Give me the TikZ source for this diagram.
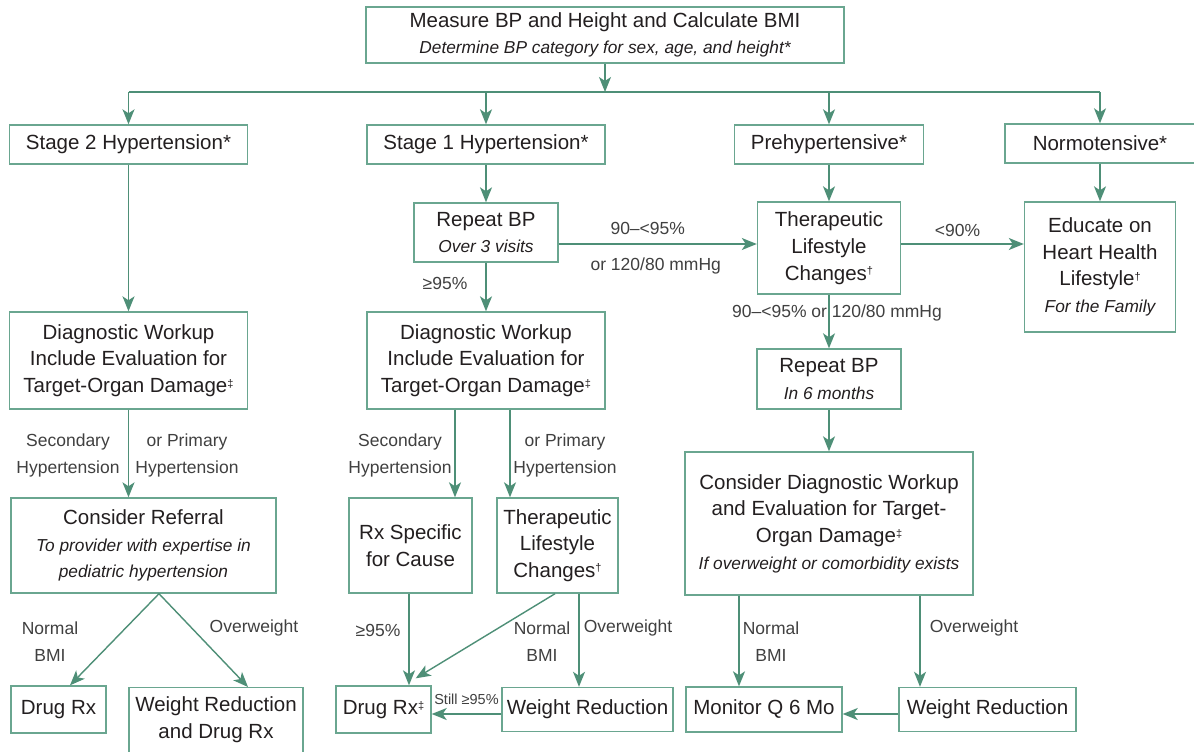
\documentclass[tikz,border=0pt]{standalone}
\usepackage{fontspec}
\setmainfont{Liberation Sans}
\usepackage{tikz}
\usetikzlibrary{arrows.meta}
\usetikzlibrary{positioning}
\definecolor{boxline}{HTML}{6AA690}
\definecolor{arrowline}{HTML}{4E8F77}
\definecolor{textgray}{HTML}{231F20}
\definecolor{labelgray}{HTML}{404040}
\newcommand\mainfs{\fontsize{20.5}{26.7}\selectfont}
\newcommand\itfs{\fontsize{17.3}{26.7}\selectfont\itshape}
\newcommand\lblfs{\fontsize{17.5}{27}\selectfont}
\newcommand\tinyfs{\fontsize{14.5}{16}\selectfont}
\newcommand\dg{\raisebox{0.55ex}{\fontsize{11}{11}\selectfont †}}
\newcommand\ddg{\raisebox{0.45ex}{\fontsize{11}{11}\selectfont ‡}}
\tikzset{
  flowbox/.style={draw=boxline, line width=1.4pt, text=textgray, font=\mainfs, align=center, inner sep=0pt},
  flow/.style={draw=arrowline, line width=1.4pt, -{Stealth[length=15pt, width=12pt, inset=4pt]}},
  plain/.style={draw=arrowline, line width=1.4pt},
  lbl/.style={text=labelgray, font=\lblfs, align=center, inner sep=0pt}
}

\begin{document}
\begin{tikzpicture}[x=1pt, y=-1pt]
    \useasboundingbox[fill=white] (0,0) rectangle (1194,752);

    % top and categories
    \node[flowbox, minimum width=478pt, minimum height=56pt] (measure) at (605,35) {Measure BP and Height and Calculate BMI\\ {\itfs Determine BP category for sex, age, and height*}};
    \node[flowbox, minimum width=238pt, minimum height=39pt] (stgtwo) at (128.5,144.5) {Stage 2 Hypertension*};
    \node[flowbox, minimum width=238pt, minimum height=39pt] (stgone) at (486,144.5) {Stage 1 Hypertension*};
    \node[flowbox, minimum width=189pt, minimum height=39pt] (prehyp) at (829,144.5) {Prehypertensive*};
    \node[flowbox, minimum width=190pt, minimum height=39pt] (normo) at (1100,143.5) {Normotensive*};

    % stage 2
    \node[flowbox, minimum width=238pt, minimum height=97pt] (dxleft) at (128.5,360.5) {Diagnostic Workup\\Include Evaluation for\\Target-Organ Damage\ddg};
    \node[flowbox, minimum width=265pt, minimum height=95pt] (referral) at (143.5,545.5) {Consider Referral\\{\itfs To provider with expertise in}\\{\itfs pediatric hypertension}};
    \node[flowbox, minimum width=95pt, minimum height=47pt] (drugone) at (58.5,709.5) {Drug Rx};
    \node[flowbox, minimum width=174pt, anchor=north, inner ysep=9pt, text depth=40pt] (wtdrug) at (216,687) {Weight Reduction\\and Drug Rx};

    % stage 1
    \node[flowbox, minimum width=144pt, minimum height=59pt] (repone) at (486,232.5) {Repeat BP\\{\itfs Over 3 visits}};
    \node[flowbox, minimum width=238pt, minimum height=97pt] (dxmid) at (486,360.5) {Diagnostic Workup\\Include Evaluation for\\Target-Organ Damage\ddg};
    \node[flowbox, minimum width=123pt, minimum height=95pt] (rxspec) at (410.5,545.5) {Rx Specific\\for Cause};
    \node[flowbox, minimum width=121pt, minimum height=95pt] (tlcmid) at (557.5,545.5) {Therapeutic\\Lifestyle\\Changes\dg};
    \node[flowbox, minimum width=95pt, minimum height=47pt] (drugtwo) at (383.5,709.5) {Drug Rx\ddg};
    \node[flowbox, minimum width=171pt, minimum height=44pt] (wtrtwo) at (587.5,709.5) {Weight Reduction};

    % prehypertensive and normotensive
    \node[flowbox, minimum width=143pt, minimum height=92pt] (tlcpre) at (829,248) {Therapeutic\\Lifestyle\\Changes\dg};
    \node[flowbox, minimum width=151pt, minimum height=130pt] (educ) at (1100,267) {Educate on\\Heart Health\\Lifestyle\dg\\{\itfs For the Family}};
    \node[flowbox, minimum width=144pt, minimum height=60pt] (reppre) at (829,379) {Repeat BP\\{\itfs In 6 months}};
    \node[flowbox, minimum width=288pt, minimum height=143pt] (consdx) at (829,523.5) {Consider Diagnostic Workup\\and Evaluation for Target-\\Organ Damage\ddg\\{\itfs If overweight or comorbidity exists}};
    \node[flowbox, minimum width=156pt, minimum height=45pt] (monitor) at (764,709.5) {Monitor Q 6 Mo};
    \node[flowbox, minimum width=177pt, minimum height=44pt] (wtrthree) at (987.5,709.5) {Weight Reduction};

    % branching
    \coordinate (split) at (605,92);
    \draw[flow] (measure.south) -- (split);
    \draw[plain] (stgtwo.north |- split) -- (normo.north |- split);
    \foreach \n in {stgtwo, stgone, prehyp, normo}
        \draw[flow] (\n.north |- split) -- (\n.north);

    \draw[flow] (stgtwo.south) -- (dxleft.north);
    \draw[flow] (dxleft.south) -- (dxleft.south |- referral.north);
    \draw[flow] ([xshift=15.5pt]referral.south) -- ([xshift=11.5pt]drugone.north);
    \draw[flow] ([xshift=15.5pt]referral.south) -- ([xshift=32pt]wtdrug.north);

    \draw[flow] (stgone.south) -- (repone.north);
    \draw[flow] (repone.south) -- (dxmid.north);
    \draw[flow] ([yshift=-11.5pt]repone.east) -- ([yshift=4pt]tlcpre.west)
        node[lbl, midway, above=9pt, xshift=-10pt] (lnintyone) {90--<95\%}
        node[lbl, midway, below=13pt, xshift=-2pt] (lmmhgone) {or 120/80 mmHg};
    \draw[flow] ([xshift=-31pt]dxmid.south) -- ([xshift=44.5pt]rxspec.north);
    \draw[flow] ([xshift=24pt]dxmid.south) -- ([xshift=-47.5pt]tlcmid.north);
    \draw[flow] ([xshift=-1.5pt]rxspec.south) -- ([xshift=25.5pt]drugtwo.north);
    \draw[flow] ([xshift=-2.5pt]tlcmid.south) -- ([xshift=-16pt,yshift=7pt]drugtwo.north east);
    \draw[flow] ([xshift=21.5pt]tlcmid.south) -- ([xshift=-8.5pt]wtrtwo.north);
    \draw[flow] ([yshift=-4.5pt]wtrtwo.west) -- ([yshift=-4.5pt]drugtwo.east)
        node[lbl, font=\tinyfs, midway, above=9pt, xshift=0pt] (lstill) {Still ≥95\%};

    \draw[flow] (prehyp.south) -- (tlcpre.north);
    \draw[flow] (normo.south) -- (educ.north);
    \draw[flow] ([yshift=4pt]tlcpre.east) -- ([yshift=23pt]educ.west)
        node[lbl, midway, above=7pt, xshift=-5pt] (lninety) {<90\%};
    \draw[flow] (tlcpre.south) -- (reppre.north);
    \draw[flow] (reppre.south) -- (consdx.north);
    \draw[flow] ([xshift=-90pt]consdx.south) -- ([xshift=-25pt]monitor.north);
    \draw[flow] ([xshift=91pt]consdx.south) -- ([xshift=-67.5pt]wtrthree.north);
    \draw[flow] ([yshift=-4.5pt]wtrthree.west) -- ([yshift=-4.5pt]monitor.east);

    % branch labels
    \node[lbl] (lsecone) at (68,455) {Secondary\\Hypertension};
    \node[lbl] (lprimone) at (187,455) {or Primary\\Hypertension};
    \node[lbl] (lnormone) at (50,642) {Normal\\BMI};
    \node[lbl] (loverone) at (254,628) {Overweight};
    \node[lbl] (lhighone) at (445,283) {≥95\%};
    \node[lbl] (lsectwo) at (400,455) {Secondary\\Hypertension};
    \node[lbl] (lprimtwo) at (565,455) {or Primary\\Hypertension};
    \node[lbl] (lhightwo) at (378,630) {≥95\%};
    \node[lbl] (lnormtwo) at (542,642) {Normal\\BMI};
    \node[lbl] (lovertwo) at (628,628) {Overweight};
    \node[lbl] (lmmhgtwo) at (837,313) {90--<95\% or 120/80 mmHg};
    \node[lbl] (lnormthree) at (771,642) {Normal\\BMI};
    \node[lbl] (loverthree) at (974,628) {Overweight};
\end{tikzpicture}
\end{document}
